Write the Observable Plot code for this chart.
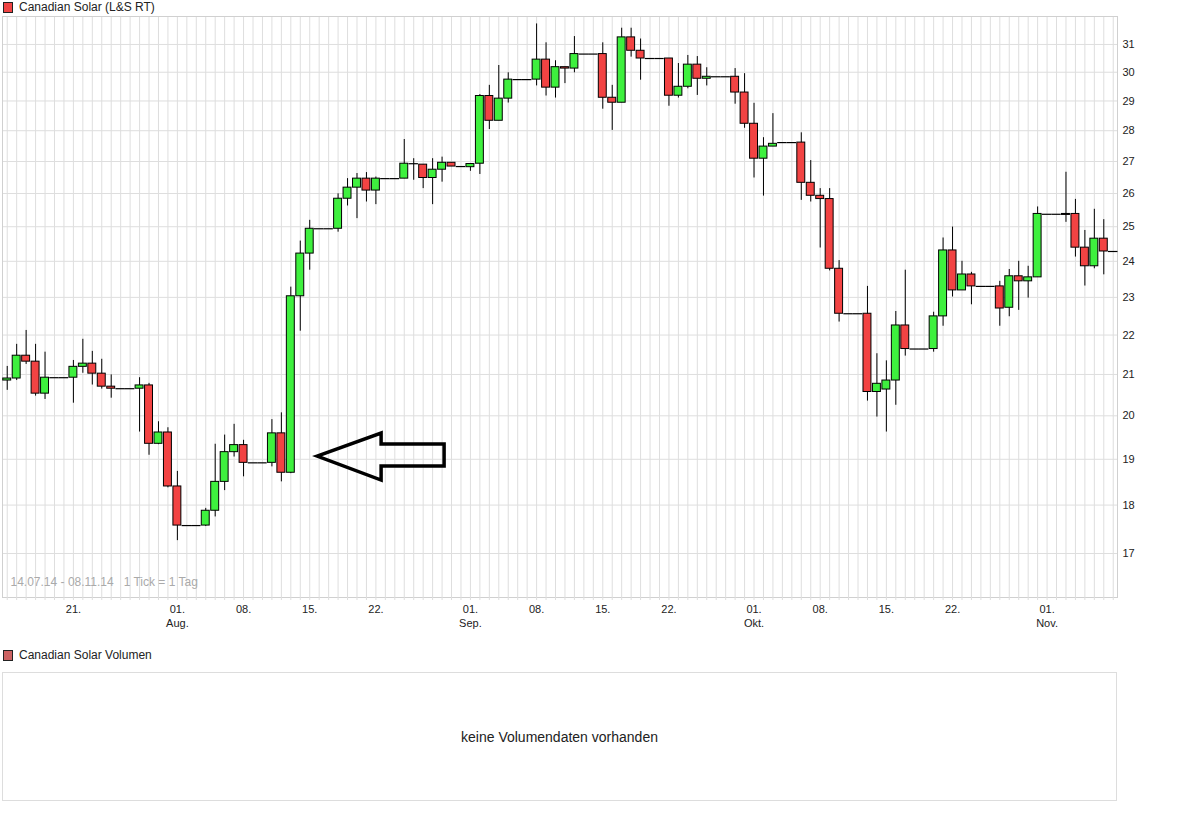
<!DOCTYPE html>
<html><head><meta charset="utf-8">
<script src="https://cdn.jsdelivr.net/npm/d3@7"></script>
<script src="https://cdn.jsdelivr.net/npm/@observablehq/plot@0.6"></script>
<style>
body{margin:0;background:#fff;font-family:"Liberation Sans",Arial,sans-serif;color:#222;}
.legend{position:absolute;left:3px;font-size:12px;display:flex;align-items:center;height:14px;}
.sw{width:8px;height:9px;border:1px solid #222;margin-right:6px;}
#chart{position:absolute;left:0;top:14px;}
.volbox{position:absolute;left:2px;top:672px;width:1113px;height:127px;border:1px solid #ddd;display:flex;align-items:center;justify-content:center;font-size:14px;}
</style>
</head><body>
<div class="legend" style="top:0px"><div class="sw" style="background:#f04444"></div>Canadian Solar (L&amp;S RT)</div>
<div id="chart"></div>
<div class="legend" style="top:648px"><div class="sw" style="background:#cc6262"></div>Canadian Solar Volumen</div>
<div class="volbox">keine Volumendaten vorhanden</div>
<script>
const startDate = "2014-07-14";
const endDate = "2014-11-08";
const open = [20.85,20.90,21.47,21.32,20.53,20.92,20.92,20.92,21.19,21.27,21.02,20.70,20.65,20.65,20.65,20.73,19.35,19.61,18.40,17.57,17.57,17.57,17.88,18.50,19.16,19.32,18.92,18.92,18.92,19.59,18.70,23.03,24.22,24.94,24.94,24.94,25.84,26.18,26.46,26.09,26.46,26.46,26.46,26.93,26.90,26.48,26.74,26.96,26.84,26.82,26.93,29.17,28.33,29.08,29.74,29.74,29.74,30.45,29.46,30.18,30.13,30.65,30.65,30.65,29.11,28.94,31.26,30.77,30.49,30.49,30.49,29.18,29.49,30.27,29.77,29.84,29.84,29.84,29.29,28.23,27.09,27.48,27.61,27.61,27.61,26.33,25.93,25.83,23.79,22.56,22.56,22.56,20.57,20.63,20.85,22.25,21.64,21.64,21.64,22.49,24.31,23.19,23.63,23.30,23.30,23.30,22.72,23.58,23.44,23.55,25.37,25.37,25.38,25.38,24.39,23.86,24.65,24.28];
const close = [20.90,21.47,21.32,20.53,20.92,20.92,20.92,21.19,21.27,21.02,20.70,20.65,20.65,20.65,20.73,19.35,19.61,18.40,17.57,17.57,17.57,17.88,18.50,19.16,19.32,18.92,18.92,18.92,19.59,18.70,23.03,24.22,24.94,24.94,24.94,25.84,26.18,26.46,26.09,26.46,26.46,26.46,26.93,26.93,26.48,26.74,26.96,26.84,26.84,26.92,29.17,28.33,29.08,29.74,29.74,29.74,30.45,29.46,30.18,30.13,30.65,30.65,30.65,29.11,28.94,31.26,30.77,30.49,30.49,30.49,29.18,29.49,30.27,29.77,29.84,29.84,29.84,29.29,28.23,27.09,27.48,27.57,27.61,27.61,26.33,25.93,25.83,23.79,22.56,22.56,22.56,20.57,20.77,20.85,22.25,21.64,21.64,21.64,22.49,24.31,23.19,23.63,23.30,23.30,23.30,22.70,23.58,23.44,23.55,25.38,25.37,25.37,25.35,24.39,23.86,24.65,24.28,24.28];
const high = [21.20,21.76,22.12,21.76,21.56,20.92,20.92,21.35,21.89,21.58,21.38,20.99,20.65,20.65,20.92,20.78,19.86,19.72,18.73,17.57,17.57,17.93,19.34,19.55,19.80,19.43,18.92,18.92,19.91,20.07,23.28,24.58,25.19,24.94,24.94,25.99,26.46,26.62,26.65,26.51,26.46,26.46,27.71,27.09,26.90,27.09,27.14,26.96,26.84,26.92,29.22,29.54,30.24,29.98,29.74,29.74,31.76,31.06,30.41,30.18,31.29,30.65,30.65,31.06,29.54,31.60,31.60,31.20,30.49,30.49,30.49,30.31,30.60,30.56,30.16,29.84,29.84,30.13,29.95,28.92,27.77,28.57,27.61,27.61,27.93,27.03,26.15,26.15,24.02,22.56,22.56,23.30,21.52,21.34,22.62,23.75,21.64,21.64,22.60,24.67,24.99,24.00,23.69,23.30,23.30,23.44,23.77,24.00,23.86,25.59,25.37,25.37,26.66,25.82,24.89,25.52,25.21,24.28];
const low = [20.61,20.85,21.25,20.47,20.39,20.92,20.92,20.30,21.03,20.74,20.64,20.42,20.65,20.65,19.62,19.09,19.33,18.37,17.26,17.57,17.57,17.55,17.75,18.31,19.05,18.61,18.92,18.92,18.83,18.50,18.68,22.10,23.75,24.94,24.94,24.84,25.62,25.24,25.74,25.66,26.46,26.46,26.46,26.41,26.15,25.66,26.35,26.84,26.84,26.69,26.59,28.04,28.33,28.93,29.74,29.74,29.52,29.17,29.10,29.60,29.98,30.65,30.65,28.72,28.01,28.94,30.54,29.72,30.49,30.49,28.82,29.10,29.42,29.19,29.52,29.84,29.84,28.89,28.08,26.48,25.92,27.48,27.61,27.61,25.79,25.74,24.38,23.73,22.34,22.56,22.56,20.35,19.97,19.62,20.25,21.46,21.64,21.64,21.56,22.23,23.01,23.19,22.80,23.30,23.30,22.23,22.48,22.65,22.98,23.55,25.37,25.37,25.13,24.12,23.31,23.79,23.62,24.28];
const yTicks = [17,18,19,20,21,22,23,24,25,26,27,28,29,30,31];
const xTickDates = ["2014-07-21","2014-08-01","2014-08-08","2014-08-15","2014-08-22","2014-09-01","2014-09-08","2014-09-15","2014-09-22","2014-10-01","2014-10-08","2014-10-15","2014-10-22","2014-11-01"];
const xTickLabels = ["21.","01.\nAug.","08.","15.","22.","01.\nSep.","08.","15.","22.","01.\nOkt.","08.","15.","22.","01.\nNov."];
const rangeText = "14.07.14 - 08.11.14\u00a0\u00a0\u00a01 Tick = 1 Tag";
const arrowTip = {date: "2014-08-15T20:00:00Z", price: 19.06};

const DAY = 864e5;
const dates = d3.utcDay.range(new Date(startDate + "T00:00:00Z"), new Date(new Date(endDate + "T00:00:00Z").getTime() + DAY));
const rows = dates.map((d, i) => ({date: d, open: open[i], close: close[i], high: high[i], low: low[i]}));
const up = rows.filter(d => d.close > d.open);
const down = rows.filter(d => d.close < d.open);
const flat = rows.filter(d => d.close === d.open);
const wicks = rows.filter(d => d.high > d.low);
const tickDates = xTickDates.map(s => new Date(s + "T00:00:00Z"));
const labelOf = new Map(tickDates.map((d, i) => [+d, xTickLabels[i]]));
const off = (d, k) => new Date(+d + k * DAY);
const GREEN = "#3ef03e", RED = "#f24343", GRID = "#dedede";

const chart = Plot.plot({
  width: 1177, height: 623,
  marginTop: 2, marginBottom: 40, marginLeft: 2, marginRight: 60,
  style: {fontFamily: "'Liberation Sans', Arial, sans-serif", fontSize: "11px", color: "#222", background: "#fff"},
  x: {type: "utc", domain: [off(dates[0], -0.5), off(dates[dates.length - 1], 0.45)]},
  y: {type: "log", domain: [16.14, 32.04]},
  marks: [
    Plot.ruleX(dates, {stroke: GRID, strokeWidth: 1}),
    Plot.ruleY(yTicks, {stroke: GRID, strokeWidth: 1}),
    Plot.frame({stroke: "#d0d0d0"}),
    Plot.axisX({ticks: dates, tickSize: 3, tickFormat: () => "", stroke: GRID}),
    Plot.axisX({ticks: tickDates, tickSize: 0, tickPadding: 5, lineHeight: 1.3, tickFormat: d => labelOf.get(+d), fill: "#222", fontSize: 11}),
    Plot.axisY({anchor: "right", ticks: yTicks, tickSize: 0, tickPadding: 5, tickFormat: d => String(d), fill: "#222", fontSize: 11}),
    Plot.text([rangeText], {frameAnchor: "bottom-left", dx: 8, dy: -15, textAnchor: "start", lineAnchor: "middle", fill: "#aaa", fontSize: 12}),
    Plot.ruleX(wicks, {x: "date", y1: "low", y2: "high", stroke: "#000", strokeWidth: 1}),
    Plot.ruleY(flat, {y: "close", x1: d => off(d.date, -0.5), x2: d => off(d.date, 0.5), stroke: "#000", strokeWidth: 1.2}),
    Plot.rect(up, {x1: d => off(d.date, -0.42), x2: d => off(d.date, 0.42), y1: "open", y2: "close", fill: GREEN, stroke: "#000", strokeWidth: 1}),
    Plot.rect(down, {x1: d => off(d.date, -0.42), x2: d => off(d.date, 0.42), y1: "close", y2: "open", fill: RED, stroke: "#000", strokeWidth: 1})
  ]
});
document.getElementById("chart").appendChild(chart);

// arrow annotation placed through the chart's own scales
const sx = chart.scale("x"), sy = chart.scale("y");
const ax = sx.apply(new Date(arrowTip.date)), ay = sy.apply(arrowTip.price);
const p = [[0,0],[64,-23],[64,-12],[127,-12],[127,10],[64,10],[64,24]];
d3.select(chart).append("path")
  .attr("d", "M" + p.map(([dx, dy]) => (ax + dx) + "," + (ay + dy)).join("L") + "Z")
  .attr("fill", "none").attr("stroke", "#000").attr("stroke-width", 3.5).attr("stroke-linejoin", "miter");
</script>
</body></html>
